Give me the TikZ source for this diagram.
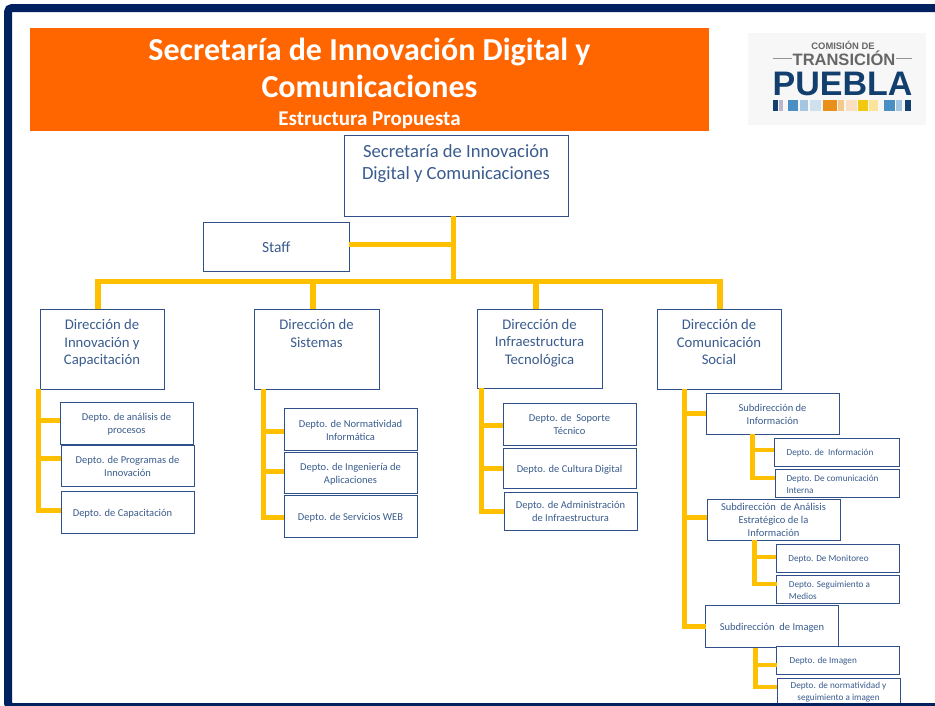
\documentclass[tikz,border=0pt]{standalone}
\usepackage{fontspec}
\setmainfont{Carlito}
\newfontfamily\logofont{Liberation Sans}
\usetikzlibrary{calc}
\definecolor{navy}{HTML}{002060}
\definecolor{orangebar}{HTML}{FF6600}
\definecolor{gold}{HTML}{FFC000}
\definecolor{boxline}{HTML}{2F5088}
\definecolor{boxtext}{HTML}{3A5C8E}
\definecolor{logonavy}{HTML}{123F6D}
\definecolor{logogray}{HTML}{666666}
\definecolor{lblue}{HTML}{4A8FC4}
\definecolor{lpale}{HTML}{A4C6E0}
\definecolor{lpaler}{HTML}{CFE0EE}
\definecolor{lorange}{HTML}{E8901A}
\definecolor{lorangeb}{HTML}{F5C88E}
\definecolor{lorangec}{HTML}{F9E0C0}
\definecolor{lyellow}{HTML}{F2C811}
\definecolor{lyellowb}{HTML}{F9E49A}
\definecolor{lgrey}{HTML}{B9B7CF}
\newcommand{\firstln}[1]{\rule{0pt}{#1}}
\tikzset{
  x=1pt,y=-1pt,
  orgbox/.style={draw=boxline,line width=1pt,fill=white,inner sep=0pt,outer sep=0pt,align=center,text=boxtext},
  toptext/.style={font=\fontsize{18.6}{22}\selectfont},
  dirtext/.style={font=\fontsize{14.7}{17.5}\selectfont},
  stafftext/.style={font=\fontsize{15.5}{18}\selectfont},
  smalltext/.style={font=\fontsize{10.5}{13}\selectfont},
  tinytext/.style={font=\fontsize{9.2}{11.5}\selectfont},
  conn/.style={draw=gold,line width=5pt},
  connthin/.style={draw=gold,line width=4.5pt},
  drop/.style={draw=gold,line width=6.5pt},
}
\newcommand{\bx}[7][]{%
  \node[orgbox,#1,minimum width={(#5)-(#3)},minimum height={(#6)-(#4)}] (#2) at ({((#3)+(#5))/2},{((#4)+(#6))/2}) {#7};}
\newcommand{\seg}[3]{\fill[#3] (#1,100) rectangle (#2,111);}
\begin{document}
\begin{tikzpicture}
\useasboundingbox (0,0) rectangle (935,705);
\clip (0,0) rectangle (935,705);
\fill[white] (0,0) rectangle (935,705);

% title band
\fill[orangebar] (30,28) rectangle (709,131);
\node[inner sep=0pt,outer sep=0pt,text=white,align=center,font=\bfseries\fontsize{32}{37}\selectfont] (title) at (369.5,77.5)
  {\firstln{34pt}Secretaría de Innovación Digital y\\
   Comunicaciones\\[-9pt]
   {\fontsize{21}{21}\selectfont Estructura Propuesta}};

% logo
\fill[black!3] (748,33) rectangle (926,125);
\node[text=logogray,font=\logofont\bfseries\fontsize{9.4}{10}\selectfont,inner sep=0pt] (lg1) at (843,45.5) {COMISIÓN DE};
\node[text=logogray,font=\logofont\bfseries\fontsize{16.5}{18}\selectfont,inner sep=0pt] (lg2) at (844,58.5) {TRANSICIÓN};
\node[text=logonavy,font=\logofont\bfseries\fontsize{34}{36}\selectfont,inner sep=0pt] (lg3) at (842.5,84) {PUEBLA};
\draw[logogray!70,line width=1pt] (773,58) -- (792,58) (896,58) -- (912,58);
\seg{773}{778}{logonavy}
\seg{779}{783}{lgrey}
\seg{788}{798}{lblue}
\seg{800}{808}{lpale}
\seg{810}{821}{lpaler}
\seg{823}{837}{lorange}
\seg{838}{844}{lorangeb}
\seg{846}{857}{lorangec}
\seg{858}{868}{lyellow}
\seg{869}{878}{lyellowb}
\seg{884}{895}{lblue}
\seg{896}{902}{lpale}
\seg{905}{911}{logonavy}

\coordinate (trunk) at (453,216);
\coordinate (bus) at (453,281);
\coordinate (busL) at (94.75,281);
\coordinate (busR) at (723.25,281);

% top row
\bx[toptext]{top}{344}{135}{568}{216}{Secretaría de Innovación\\Digital y Comunicaciones\\[4pt]\mbox{}}
\bx[stafftext]{staff}{203.5}{222}{349}{271}{\firstln{12pt}Staff}
\bx[dirtext]{d1}{40}{309}{164}{389}{Dirección de\\Innovación y\\Capacitación\\[-4pt]\mbox{}}
\bx[dirtext]{d2}{254}{309}{379}{389}{Dirección de\\Sistemas\\\mbox{}\\[-4pt]\mbox{}}
\bx[dirtext]{d3}{477}{309}{602}{388}{Dirección de\\Infraestructura\\Tecnológica\\[-4pt]\mbox{}}
\bx[dirtext]{d4}{657}{309}{781}{389}{Dirección de\\Comunicación\\Social\\[-4pt]\mbox{}}

\draw[conn] (top.south -| trunk) -- (bus);
\draw[conn] ([yshift=2pt]staff.east) -- ([yshift=2pt]staff.east -| trunk);
\draw[conn] (busL) -- (busR);
\draw[drop] (98,281) -- (d1.north -| 98,281);
\draw[drop] (313,281) -- (d2.north -| 313,281);
\draw[drop] (536,281) -- (d3.north -| 536,281);
\draw[drop] (720,281) -- (d4.north -| 720,281);

% level three, left columns
\bx[smalltext]{a1}{60}{402}{193}{444}{\firstln{10pt}Depto. de análisis de\\procesos}
\bx[smalltext]{a2}{61}{445}{194}{486}{\firstln{10pt}Depto. de Programas de\\Innovación}
\bx[smalltext]{a3}{61}{491}{194}{533}{\firstln{10pt}Depto. de Capacitación\hspace*{10pt}}
\bx[smalltext]{b1}{284}{408}{417}{450}{\firstln{10pt}Depto. de Normatividad\\Informática}
\bx[smalltext]{b2}{284}{452}{417}{493}{\firstln{10pt}Depto. de Ingeniería de\\Aplicaciones}
\bx[smalltext]{b3}{284}{495}{417}{537}{\firstln{10pt}Depto. de Servicios WEB}
\bx[smalltext]{c1}{503}{403}{636}{445}{\firstln{9pt}Depto. de\ \ Soporte\\Técnico}
\bx[smalltext]{c2}{503}{448}{636}{488}{\firstln{10pt}Depto. de Cultura Digital}
\bx[smalltext]{c3}{504}{492}{637}{530}{\firstln{9pt}Depto. de Administración\\de Infraestructura}

\draw[conn] ([xshift=-2pt]d1.south west) |- ([yshift=3pt]a1.west);
\draw[conn] ([xshift=-2pt]d1.south west) |- ([yshift=7.5pt]a2.west);
\draw[conn] ([xshift=-2pt]d1.south west) |- ([yshift=2pt]a3.west);
\draw[conn] ([xshift=9pt]d2.south west) |- ([yshift=-2pt]b1.west);
\draw[conn] ([xshift=9pt]d2.south west) |- ([yshift=1.5pt]b2.west);
\draw[conn] ([xshift=9pt]d2.south west) |- ([yshift=-1pt]b3.west);
\draw[conn] ([xshift=4pt]d3.south west) |- ([yshift=-1pt]c1.west);
\draw[conn] ([xshift=4pt]d3.south west) |- (c2.west);
\draw[conn] ([xshift=4pt]d3.south west) |- (c3.west);

% communication column
\bx[smalltext]{s1}{706}{393}{839}{434}{\firstln{10pt}Subdirección de\\Información}
\bx[smalltext]{s2}{707}{499.5}{840}{540}{Subdirección\ \ de Análisis\\Estratégico de la\\Información}
\bx[smalltext]{s3}{705.5}{605}{838.5}{647.5}{\firstln{10pt}Subdirección\ \ de Imagen}
\bx[tinytext]{e1}{774}{438}{899}{466}{\firstln{9pt}Depto. de\ \ Información\hspace*{13pt}}
\bx[tinytext,align=left]{e2}{775}{469}{899}{497}{\firstln{9pt}Depto. De comunicación\hspace*{9pt}\\Interna}
\bx[tinytext]{e3}{776}{544}{899}{572}{\firstln{9pt}Depto. De Monitoreo\hspace*{18pt}}
\bx[tinytext,align=left]{e4}{776.5}{575}{899.5}{603}{\firstln{9pt}Depto. Seguimiento a\hspace*{17pt}\\Medios}
\bx[tinytext]{e5}{776.5}{646}{899}{674}{\firstln{9pt}Depto. de Imagen\hspace*{29pt}}
\bx[tinytext]{e6}{777}{678}{900}{716}{Depto. de normatividad y\\seguimiento a imagen\\[0pt]\mbox{}}

\draw[conn] ([xshift=27.5pt]d4.south west) |- (s1.west);
\draw[conn] ([xshift=27.5pt]d4.south west) |- ([yshift=2pt]s2.west);
\draw[conn] ([xshift=27.5pt]d4.south west) |- (s3.west);
\draw[connthin] ([xshift=46.5pt]s1.south west) |- (e1.west |- 0,450);
\draw[connthin] ([xshift=46.5pt]s1.south west) |- (e2.west |- 0,478);
\draw[connthin] ([xshift=47.5pt]s2.south west) |- (e3.west |- 0,557);
\draw[connthin] ([xshift=47.5pt]s2.south west) |- (e4.west |- 0,584);
\draw[connthin] ([xshift=50pt]s3.south west) |- (e5.west |- 0,665);
\draw[connthin] ([xshift=50pt]s3.south west) |- (e6.west |- 0,687);

% frame
\draw[navy,line width=8pt,rounded corners=4pt] (8,8) rectangle (960,707);
\end{tikzpicture}
\end{document}
